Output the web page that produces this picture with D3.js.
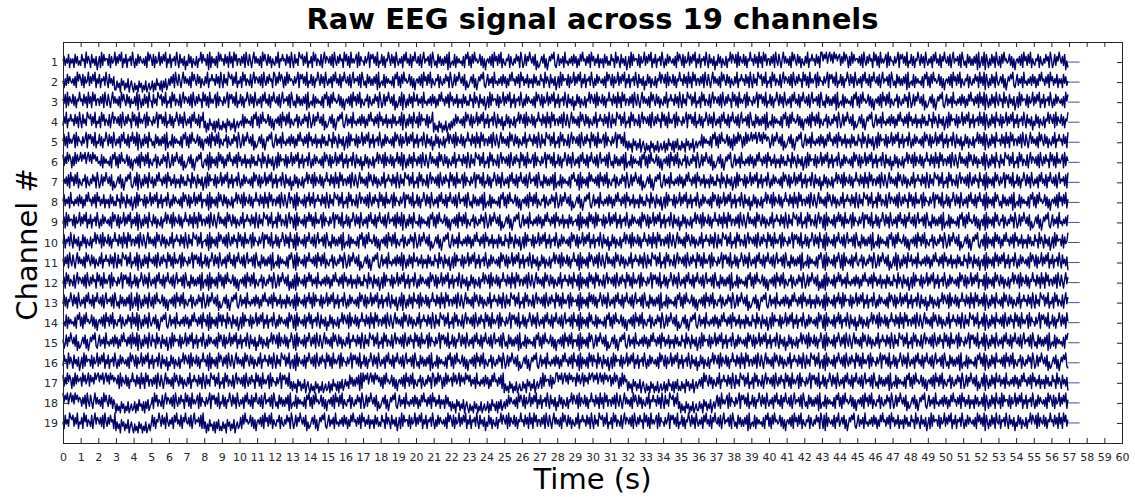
<!DOCTYPE html>
<html><head><meta charset="utf-8">
<script src="https://cdn.jsdelivr.net/npm/d3@7"></script>
<style>body{margin:0;background:#fff}svg text{font-family:"DejaVu Sans",sans-serif}</style>
</head><body><svg id="chart" width="1135" height="497"></svg>
<script>
// EEG samples: 16 samples per second, one digit per sample
// (0..9, 4.5 = channel baseline), one space-separated group per second.
const ch01 = `5736482646284735 3856294752846371 4729385663827459 3748592648265739 5263847546372958 6382745937485926 4826573952846371 5384726437265948 5638192746372958 5638472947295836
6374829538526947 4637295853847264 3749265856384729 5284639768374925 4729583653826947 6473829537485629 5837294646829375 5374692868473925 4837265963847295 3647285946382759
5473826946573829 6352847363748192 4538274645372869 3728495645837261 5647382957384926 4365827436485729 6248375964738152 3574826147586932 5836472945364738 4726385956374829
5736482646284735 3856294752846371 4729385663827459 3748592648265739 5263847546372958 6382745937485926 4826573952846371 5384726437265948 6482937548372659 5638472947295836
6374829538526947 4637295853847264 3749265856384729 9586947958496857 8374958627394856 6473829537485629 5837294646829375 5374692868473925 4837265963847295 3647285946382759
5473826946573829 6352847363748192 4739185263847295 3728495645837261 5647382957384926 4365827436485729 6248375964738152`;
const ch02 = `5263847546372958 6382745937485926 4826573952846371 1524063514260352 0413052403150241 2504163415052613 6374829538526947 4637295853847264 3749265856384729 5284639768374925
4729583653826947 6473829537485629 8374958627394856 5374692868473925 4837265963847295 3647285946382759 5473826946573829 6352847363748192 4538274645372869 3728495645837261
5647382957384926 4365827436485729 6248375964738152 3574826147586932 5836472945364738 4726385956374829 5736482646284735 3856294752846371 4729385663827459 3748592648265739
5263847546372958 6382745937485926 4826573952846371 5384726437265948 6482937548372659 5638472947295836 6374829538526947 4637295853847264 3749265856384729 5284639768374925
4729583653826947 6473829537485629 5837294646829375 5374692868473925 4837265963847295 3647285946382759 5473826946573829 6352847363748192 4538274645372869 3728495645837261
5647382957384926 4365827436485729 4739185263847295 3574826147586932 5836472945364738 4726385956374829 5736482646284735`;
const ch03 = `6482937548372659 5638472947295836 6374829538526947 4637295853847264 4739185263847295 5284639768374925 4729583653826947 6473829537485629 5837294646829375 5374692868473925
4837265963847295 3647285946382759 5473826946573829 6352847363748192 4538274645372869 3728495645837261 5647382957384926 4365827436485729 6248375964738152 4739185263847295
5836472945364738 4726385956374829 5736482646284735 3856294752846371 4729385663827459 3748592648265739 5263847546372958 6382745937485926 4826573952846371 5384726437265948
6482937548372659 5638472947295836 6374829538526947 4637295853847264 3749265856384729 5284639768374925 4729583653826947 6473829537485629 5837294646829375 5374692868473925
4837265963847295 3647285946382759 5473826946573829 6352847363748192 4538274645372869 3728495645837261 5647382957384926 4365827436485729 6248375964738152 3574826147586932
5836472945364738 4726385956374829 4739185263847295 3856294752846371 4729385663827459 3748592648265739 5263847546372958`;
const ch04 = `3749265856384729 5284639768374925 4729583653826947 6473829537485629 5837294646829375 5374692868473925 4837265963847295 3647285946382759 2504163415052613 1524063514260352
4538274645372869 3728495645837261 5647382957384926 4365827436485729 6248375964738152 3574826147586932 5836472945364738 4726385956374829 5736482646284735 4739185263847295
4729385663827459 0413052403150241 5263847546372958 6382745937485926 4826573952846371 5384726437265948 6482937548372659 5638472947295836 6374829538526947 4637295853847264
3749265856384729 5284639768374925 4729583653826947 6473829537485629 5837294646829375 5374692868473925 4837265963847295 3647285946382759 5473826946573829 6352847363748192
4538274645372869 3728495645837261 5647382957384926 4365827436485729 6248375964738152 3574826147586932 5836472945364738 4726385956374829 5736482646284735 3856294752846371
4729385663827459 3748592648265739 4739185263847295 6382745937485926 4826573952846371 5384726437265948 6482937548372659`;
const ch05 = `5837294646829375 5374692868473925 4837265963847295 3647285946382759 4739185263847295 6352847363748192 4538274645372869 3728495645837261 5647382957384926 4365827436485729
6248375964738152 3574826147586932 5836472945364738 4726385956374829 5736482646284735 3856294752846371 4729385663827459 3748592648265739 5263847546372958 6382745937485926
4826573952846371 5384726437265948 6482937548372659 5638472947295836 6374829538526947 4637295853847264 3749265856384729 5284639768374925 4729583653826947 6473829537485629
5837294646829375 5374692868473925 1524063514260352 0413052403150241 2504163415052613 1524063514260352 4538274645372869 3728495645837261 8374958627394856 9586947958496857
6248375964738152 3574826147586932 5836472945364738 4726385956374829 5736482646284735 3856294752846371 4729385663827459 3748592648265739 5263847546372958 6382745937485926
4826573952846371 5384726437265948 4739185263847295 5638472947295836 6374829538526947 4637295853847264 3749265856384729`;
const ch06 = `8374958627394856 9586947958496857 4538274645372869 3728495645837261 5647382957384926 4365827436485729 6248375964738152 3574826147586932 5638192746372958 4726385956374829
5736482646284735 3856294752846371 4729385663827459 3748592648265739 5263847546372958 6382745937485926 4826573952846371 5384726437265948 6482937548372659 4739185263847295
6374829538526947 4637295853847264 3749265856384729 5284639768374925 4729583653826947 6473829537485629 5837294646829375 5374692868473925 4837265963847295 3647285946382759
5473826946573829 6352847363748192 4538274645372869 3728495645837261 5647382957384926 4365827436485729 6248375964738152 3574826147586932 5836472945364738 4726385956374829
5736482646284735 3856294752846371 4729385663827459 3748592648265739 5263847546372958 6382745937485926 4826573952846371 5384726437265948 6482937548372659 5638472947295836
6374829538526947 4637295853847264 4739185263847295 5284639768374925 4729583653826947 6473829537485629 5837294646829375`;
const ch07 = `5647382957384926 4365827436485729 6248375964738152 3574826147586932 4739185263847295 4726385956374829 5736482646284735 3856294752846371 4729385663827459 3748592648265739
5263847546372958 6382745937485926 4826573952846371 5384726437265948 6482937548372659 5638472947295836 6374829538526947 4637295853847264 3749265856384729 5284639768374925
4729583653826947 6473829537485629 5837294646829375 5374692868473925 4837265963847295 3647285946382759 5473826946573829 6352847363748192 4538274645372869 5638192746372958
5647382957384926 4365827436485729 6248375964738152 3574826147586932 5836472945364738 4726385956374829 5736482646284735 3856294752846371 4729385663827459 3748592648265739
5263847546372958 6382745937485926 4826573952846371 5384726437265948 6482937548372659 5638472947295836 6374829538526947 4637295853847264 3749265856384729 5284639768374925
4729583653826947 6473829537485629 5638192746372958 5374692868473925 4837265963847295 3647285946382759 5473826946573829`;
const ch08 = `5836472945364738 4726385956374829 5736482646284735 3856294752846371 4729385663827459 3748592648265739 5263847546372958 6382745937485926 5638192746372958 5384726437265948
6482937548372659 5638472947295836 6374829538526947 6281937546382759 3749265856384729 5284639768374925 4729583653826947 6473829537485629 5837294646829375 5374692868473925
4837265963847295 3647285946382759 5473826946573829 6352847363748192 4538274645372869 3728495645837261 5647382957384926 4365827436485729 6248375964738152 3574826147586932
5836472945364738 4726385956374829 5736482646284735 3856294752846371 4729385663827459 3748592648265739 5263847546372958 6382745937485926 4826573952846371 5384726437265948
6482937548372659 5638472947295836 6374829538526947 4637295853847264 3749265856384729 5284639768374925 4729583653826947 6473829537485629 5837294646829375 5374692868473925
4837265963847295 3647285946382759 5638192746372958 6352847363748192 4538274645372869 3728495645837261 5647382957384926`;
const ch09 = `4729385663827459 3748592648265739 5263847546372958 6382745937485926 4739185263847295 5384726437265948 6482937548372659 5638472947295836 6374829538526947 4637295853847264
3749265856384729 5284639768374925 4729583653826947 6281937546382759 5837294646829375 5374692868473925 4837265963847295 3647285946382759 5473826946573829 4739185263847295
4538274645372869 3728495645837261 5647382957384926 4365827436485729 6248375964738152 3574826147586932 5836472945364738 4726385956374829 5736482646284735 5638192746372958
4729385663827459 3748592648265739 5263847546372958 6382745937485926 4826573952846371 5384726437265948 6482937548372659 5638472947295836 6374829538526947 4637295853847264
3749265856384729 5284639768374925 4729583653826947 6281937546382759 5837294646829375 5374692868473925 4837265963847295 3647285946382759 5473826946573829 6352847363748192
4538274645372869 3728495645837261 5638192746372958 4365827436485729 6248375964738152 3574826147586932 5836472945364738`;
const ch10 = `4826573952846371 5384726437265948 6482937548372659 5638472947295836 6374829538526947 4637295853847264 3749265856384729 5284639768374925 5638192746372958 6473829537485629
5837294646829375 5374692868473925 4837265963847295 6281937546382759 5473826946573829 6352847363748192 4538274645372869 3728495645837261 5647382957384926 4365827436485729
6248375964738152 3574826147586932 5836472945364738 4726385956374829 5736482646284735 3856294752846371 4729385663827459 3748592648265739 5263847546372958 6382745937485926
4826573952846371 5384726437265948 6482937548372659 5638472947295836 6374829538526947 4637295853847264 3749265856384729 5284639768374925 4729583653826947 6473829537485629
5837294646829375 5374692868473925 4837265963847295 6281937546382759 5473826946573829 6352847363748192 4538274645372869 3728495645837261 5647382957384926 4365827436485729
6248375964738152 3574826147586932 5638192746372958 4726385956374829 5736482646284735 3856294752846371 4729385663827459`;
const ch11 = `6374829538526947 4637295853847264 3749265856384729 5284639768374925 4739185263847295 6473829537485629 5837294646829375 5374692868473925 4837265963847295 3647285946382759
5473826946573829 6352847363748192 4538274645372869 6281937546382759 5647382957384926 4365827436485729 6248375964738152 3574826147586932 5836472945364738 4739185263847295
5736482646284735 3856294752846371 4729385663827459 3748592648265739 5263847546372958 6382745937485926 4826573952846371 5384726437265948 6482937548372659 5638192746372958
6374829538526947 4637295853847264 3749265856384729 5284639768374925 4729583653826947 6473829537485629 5837294646829375 5374692868473925 4837265963847295 3647285946382759
5473826946573829 6352847363748192 4538274645372869 6281937546382759 6281937546382759 4365827436485729 6248375964738152 4739185263847295 5836472945364738 4726385956374829
5736482646284735 3856294752846371 5638192746372958 3748592648265739 5263847546372958 6382745937485926 4826573952846371`;
const ch12 = `4729583653826947 6473829537485629 5837294646829375 5374692868473925 4837265963847295 3647285946382759 5473826946573829 6352847363748192 5638192746372958 3728495645837261
5647382957384926 4365827436485729 6248375964738152 6281937546382759 5836472945364738 4726385956374829 5736482646284735 3856294752846371 4729385663827459 3748592648265739
5263847546372958 6382745937485926 4826573952846371 5384726437265948 6482937548372659 5638472947295836 6374829538526947 4637295853847264 3749265856384729 5638192746372958
4729583653826947 6473829537485629 5837294646829375 5374692868473925 4837265963847295 3647285946382759 5473826946573829 6352847363748192 4538274645372869 3728495645837261
5647382957384926 4365827436485729 6248375964738152 6281937546382759 5836472945364738 4726385956374829 5736482646284735 3856294752846371 4729385663827459 3748592648265739
5263847546372958 6382745937485926 5638192746372958 5384726437265948 6482937548372659 5638472947295836 6374829538526947`;
const ch13 = `4837265963847295 3647285946382759 5473826946573829 6352847363748192 4739185263847295 3728495645837261 5647382957384926 4365827436485729 6248375964738152 3574826147586932
5836472945364738 4726385956374829 5736482646284735 6281937546382759 4729385663827459 3748592648265739 5263847546372958 6382745937485926 4826573952846371 4739185263847295
6482937548372659 5638472947295836 6374829538526947 4637295853847264 3749265856384729 5284639768374925 4729583653826947 6473829537485629 5837294646829375 5638192746372958
4837265963847295 3647285946382759 5473826946573829 6352847363748192 4538274645372869 3728495645837261 5647382957384926 4365827436485729 6248375964738152 3574826147586932
5836472945364738 4726385956374829 5736482646284735 6281937546382759 4729385663827459 3748592648265739 5263847546372958 6382745937485926 4826573952846371 5384726437265948
6482937548372659 5638472947295836 4739185263847295 4637295853847264 3749265856384729 5284639768374925 4729583653826947`;
const ch14 = `4538274645372869 3728495645837261 5647382957384926 4365827436485729 4739185263847295 3574826147586932 5836472945364738 4726385956374829 5638192746372958 3856294752846371
4729385663827459 3748592648265739 5263847546372958 6281937546382759 4826573952846371 5384726437265948 6482937548372659 5638472947295836 6374829538526947 4637295853847264
3749265856384729 5284639768374925 4729583653826947 6473829537485629 5837294646829375 5374692868473925 4837265963847295 3647285946382759 5473826946573829 5638192746372958
4538274645372869 3728495645837261 5647382957384926 4365827436485729 6248375964738152 3574826147586932 5836472945364738 4726385956374829 5736482646284735 3856294752846371
4729385663827459 3748592648265739 5263847546372958 6281937546382759 4826573952846371 5384726437265948 6482937548372659 5638472947295836 6374829538526947 4637295853847264
3749265856384729 5284639768374925 4739185263847295 6473829537485629 5837294646829375 5374692868473925 4837265963847295`;
const ch15 = `6248375964738152 3574826147586932 5836472945364738 4726385956374829 4739185263847295 3856294752846371 4729385663827459 3748592648265739 5263847546372958 6382745937485926
4826573952846371 5384726437265948 6482937548372659 6281937546382759 6374829538526947 4637295853847264 3749265856384729 5284639768374925 4729583653826947 6473829537485629
5837294646829375 5374692868473925 4837265963847295 3647285946382759 5473826946573829 6352847363748192 4538274645372869 3728495645837261 5647382957384926 5638192746372958
6248375964738152 3574826147586932 5836472945364738 4726385956374829 5736482646284735 3856294752846371 4729385663827459 3748592648265739 5263847546372958 6382745937485926
4826573952846371 5384726437265948 6482937548372659 6281937546382759 6374829538526947 4637295853847264 3749265856384729 5284639768374925 4729583653826947 6473829537485629
5837294646829375 5374692868473925 4739185263847295 3647285946382759 5473826946573829 6352847363748192 4538274645372869`;
const ch16 = `3856294752846371 4729385663827459 3748592648265739 5263847546372958 6382745937485926 4826573952846371 5384726437265948 6482937548372659 5638192746372958 6374829538526947
4637295853847264 3749265856384729 5284639768374925 6281937546382759 6473829537485629 5837294646829375 5374692868473925 4837265963847295 3647285946382759 5473826946573829
6352847363748192 4538274645372869 3728495645837261 5647382957384926 4365827436485729 6248375964738152 3574826147586932 5836472945364738 4726385956374829 5638192746372958
3856294752846371 4729385663827459 3748592648265739 5263847546372958 6382745937485926 4826573952846371 5384726437265948 6482937548372659 5638472947295836 6374829538526947
4637295853847264 3749265856384729 5284639768374925 6281937546382759 6473829537485629 5837294646829375 5374692868473925 4837265963847295 3647285946382759 5473826946573829
6352847363748192 4538274645372869 4739185263847295 5647382957384926 4365827436485729 6248375964738152 3574826147586932`;
const ch17 = `8374958627394856 7395846938574968 9586947958496857 6482937548372659 5638472947295836 6374829538526947 4637295853847264 3749265856384729 5284639768374925 4729583653826947
6473829537485629 5837294646829375 5374692868473925 1524063514260352 0413052403150241 2504163415052613 6352847363748192 9586947958496857 3728495645837261 5647382957384926
4365827436485729 8374958627394856 7395846938574968 5836472945364738 4726385956374829 0413052403150241 1524063514260352 4729385663827459 9586947958496857 7395846938574968
9586947958496857 8374958627394856 1524063514260352 0413052403150241 2504163415052613 1524063514260352 4637295853847264 3749265856384729 5284639768374925 4729583653826947
6473829537485629 5837294646829375 5374692868473925 4837265963847295 3647285946382759 5473826946573829 6352847363748192 4538274645372869 3728495645837261 5647382957384926
4365827436485729 6248375964738152 4739185263847295 5836472945364738 4726385956374829 5736482646284735 3856294752846371`;
const ch18 = `9586947958496857 6374829538526947 4637295853847264 0413052403150241 2504163415052613 4729583653826947 6473829537485629 5837294646829375 5374692868473925 4837265963847295
3647285946382759 5473826946573829 6352847363748192 4538274645372869 3728495645837261 5647382957384926 4365827436485729 6248375964738152 3574826147586932 5836472945364738
4726385956374829 5736482646284735 1524063514260352 0413052403150241 2504163415052613 5263847546372958 6382745937485926 4826573952846371 5384726437265948 6482937548372659
5638472947295836 6374829538526947 4637295853847264 3749265856384729 5284639768374925 0413052403150241 1524063514260352 5837294646829375 5374692868473925 4837265963847295
3647285946382759 5473826946573829 6352847363748192 4538274645372869 3728495645837261 5647382957384926 4365827436485729 6248375964738152 3574826147586932 5836472945364738
4726385956374829 5736482646284735 4739185263847295 4729385663827459 3748592648265739 5263847546372958 6382745937485926`;
const ch19 = `5284639768374925 4729583653826947 6473829537485629 1524063514260352 0413052403150241 4837265963847295 3647285946382759 5473826946573829 2504163415052613 1524063514260352
3728495645837261 5647382957384926 4365827436485729 6248375964738152 3574826147586932 5836472945364738 4726385956374829 5736482646284735 3856294752846371 4729385663827459
3748592648265739 5263847546372958 6382745937485926 4826573952846371 5384726437265948 6482937548372659 5638472947295836 6374829538526947 4637295853847264 3749265856384729
5284639768374925 4729583653826947 6473829537485629 5837294646829375 5374692868473925 4837265963847295 3647285946382759 5473826946573829 6352847363748192 4538274645372869
3728495645837261 5647382957384926 4365827436485729 6281937546382759 3574826147586932 5836472945364738 4726385956374829 5736482646284735 3856294752846371 4729385663827459
3748592648265739 5263847546372958 4739185263847295 4826573952846371 5384726437265948 6482937548372659 5638472947295836`;

const channelSignals = [ch01, ch02, ch03, ch04, ch05, ch06, ch07, ch08, ch09, ch10,
                        ch11, ch12, ch13, ch14, ch15, ch16, ch17, ch18, ch19];
const channelNumbers = [1, 2, 3, 4, 5, 6, 7, 8, 9, 10, 11, 12, 13, 14, 15, 16, 17, 18, 19];
const timeTicks = [0,1,2,3,4,5,6,7,8,9,10,11,12,13,14,15,16,17,18,19,20,21,22,23,24,25,26,27,28,29,
                   30,31,32,33,34,35,36,37,38,39,40,41,42,43,44,45,46,47,48,49,50,51,52,53,54,55,56,57,58,59,60];
const recordSeconds = 57;          // length of recording
const padTimes = [56.95, 57.6];    // zero padded tail of every channel
const unitsPerStep = 0.11;         // channel-spacing units per digit step

const M = {left: 63, right: 1122, top: 42, bottom: 443};
const svg = d3.select("#chart");

const x = d3.scaleLinear().domain([0, 60]).range([M.left, M.right]);
const y = d3.scaleLinear().domain([0, 20]).range([M.top, M.bottom]);

const series = channelSignals.map((s, k) => {
  const digits = s.replace(/\s+/g, "").split("").map(Number);
  const n = digits.length;
  const pts = digits.map((d, i) => ({t: i * recordSeconds / n, v: (d - 4.5) * unitsPerStep}));
  return {ch: channelNumbers[k], pts, tail: padTimes.map(t => ({t, v: 0}))};
});

const line = d3.line().x(d => x(d.t));

const gSig = svg.append("g");
gSig.selectAll("path.tail").data(series).join("path").attr("class", "tail")
  .attr("fill", "none")
  .attr("stroke", "#4a4a9a")
  .attr("stroke-width", 1)
  .attr("d", s => line.y(d => y(s.ch - d.v))(s.tail));
gSig.selectAll("path.sig").data(series).join("path").attr("class", "sig")
  .attr("fill", "none")
  .attr("stroke", "#00006b")
  .attr("stroke-width", 1.4)
  .attr("stroke-linejoin", "round")
  .attr("d", s => line.y(d => y(s.ch - d.v))(s.pts));

const axisColor = "#262626";
function styleAxis(g) {
  g.select(".domain").remove();
  g.selectAll("line").attr("stroke", axisColor);
  g.selectAll("text").attr("fill", axisColor).style("font-size", "11px")
    .style("font-family", '"DejaVu Sans", sans-serif');
}
svg.append("g").attr("transform", `translate(0,${M.bottom})`)
  .call(d3.axisBottom(x).tickValues(timeTicks).tickSize(-5).tickSizeOuter(0).tickPadding(10).tickFormat(d3.format("d")))
  .call(styleAxis);
svg.append("g").attr("transform", `translate(0,${M.top})`)
  .call(d3.axisTop(x).tickValues(timeTicks).tickSize(-5).tickSizeOuter(0).tickFormat(""))
  .call(styleAxis);
svg.append("g").attr("transform", `translate(${M.left},0)`)
  .call(d3.axisLeft(y).tickValues(channelNumbers).tickSize(-5).tickSizeOuter(0).tickPadding(5).tickFormat(d3.format("d")))
  .call(styleAxis);
svg.append("g").attr("transform", `translate(${M.right},0)`)
  .call(d3.axisRight(y).tickValues(channelNumbers).tickSize(-5).tickSizeOuter(0).tickFormat(""))
  .call(styleAxis);

svg.append("rect")
  .attr("x", M.left + 0.5).attr("y", M.top + 0.5)
  .attr("width", M.right - M.left).attr("height", M.bottom - M.top)
  .attr("fill", "none").attr("stroke", axisColor).attr("stroke-width", 1);

svg.append("text").attr("x", (M.left + M.right) / 2).attr("y", 29)
  .attr("text-anchor", "middle").style("font-size", "29px").style("font-weight", "bold")
  .attr("fill", "#000").text("Raw EEG signal across 19 channels");
svg.append("text").attr("x", (M.left + M.right) / 2).attr("y", 489)
  .attr("text-anchor", "middle").style("font-size", "29px").attr("fill", "#000").text("Time (s)");
svg.append("text").attr("transform", `translate(37,${(M.top + M.bottom) / 2 + 2}) rotate(-90)`)
  .attr("text-anchor", "middle").style("font-size", "29px").attr("fill", "#000").text("Channel #");
</script></body></html>
